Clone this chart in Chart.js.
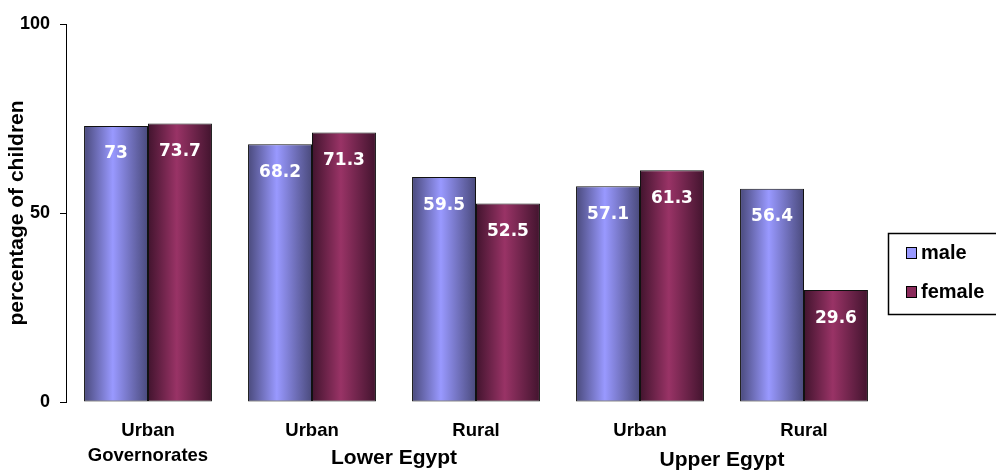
<!DOCTYPE html>
<html>
<head>
<meta charset="utf-8">
<script src="https://cdn.jsdelivr.net/npm/chart.js@4"></script>
<style>
  html, body { margin: 0; padding: 0; background: #fff; overflow: hidden; }
  #wrap { width: 996px; height: 470px; position: relative; }
</style>
</head>
<body>
<div id="wrap"><canvas id="myChart" width="996" height="470"></canvas></div>
<script>
// データ
const categories = [['Urban', 'Governorates'], 'Urban', 'Rural', 'Urban', 'Rural'];
const groupLabels = ['Lower Egypt', 'Upper Egypt'];
const groupSpans = [[1, 2], [3, 4]]; // どのカテゴリの下に置くか
const maleValues = [73, 68.2, 59.5, 57.1, 56.4];
const femaleValues = [73.7, 71.3, 52.5, 61.3, 29.6];
const yTicks = [0, 50, 100];

const FONT = '"Liberation Sans", Arial, sans-serif';
const CAT_PCT = 0.78;

// 棒の横方向グラデーション
function barGradient(edge, mid, side) {
    return function(context) {
        const chart = context.chart;
        const area = chart.chartArea;
        const xScale = chart.scales.x;
        if (!area || !xScale || context.dataIndex === undefined) return mid;
        const center = xScale.getPixelForValue(context.dataIndex);
        const bw = (area.width / categories.length) * CAT_PCT / 2;
        const x0 = side === 0 ? center - bw : center;
        const g = chart.ctx.createLinearGradient(x0, 0, x0 + bw, 0);
        g.addColorStop(0, edge);
        g.addColorStop(0.45, mid);
        g.addColorStop(1, edge);
        return g;
    };
}

// 値ラベル
const valueLabels = {
    id: 'valueLabels',
    afterDatasetsDraw(chart) {
        const ctx = chart.ctx;
        ctx.save();
        ctx.fillStyle = '#fff';
        ctx.font = 'bold 17px "DejaVu Sans", sans-serif';
        ctx.textAlign = 'center';
        ctx.textBaseline = 'middle';
        chart.data.datasets.forEach((ds, i) => {
            chart.getDatasetMeta(i).data.forEach((el, j) => {
                ctx.fillText(String(ds.data[j]), el.x, el.y + 28);
            });
        });
        ctx.restore();
    }
};

// グループラベルと凡例
const extras = {
    id: 'extras',
    afterDraw(chart) {
        const ctx = chart.ctx;
        const xScale = chart.scales.x;
        ctx.save();
        ctx.fillStyle = '#000';
        ctx.font = 'bold 21px ' + FONT;
        ctx.textAlign = 'center';
        ctx.textBaseline = 'middle';
        groupLabels.forEach((lab, i) => {
            const a = xScale.getPixelForValue(groupSpans[i][0]);
            const b = xScale.getPixelForValue(groupSpans[i][1]);
            ctx.fillText(lab, (a + b) / 2, 458 + i * 2);
        });

        // 凡例
        ctx.strokeStyle = '#000';
        ctx.lineWidth = 1.5;
        ctx.strokeRect(888.5, 233.5, 110, 81);
        const items = [['male', '#9999ff'], ['female', '#8a2a5a']];
        ctx.font = 'bold 20px ' + FONT;
        ctx.textAlign = 'left';
        items.forEach((it, i) => {
            const y = 253 + i * 39;
            ctx.fillStyle = it[1];
            ctx.fillRect(906, y - 6, 11, 12);
            ctx.strokeStyle = '#000';
            ctx.lineWidth = 1;
            ctx.strokeRect(906.5, y - 5.5, 10, 11);
            ctx.fillStyle = '#000';
            ctx.fillText(it[0], 921, y);
        });
        ctx.restore();
    }
};

const ctx = document.getElementById('myChart').getContext('2d');
const myChart = new Chart(ctx, {
    type: 'bar',
    data: {
        labels: categories,
        datasets: [{
            label: 'male',
            data: maleValues,
            backgroundColor: barGradient('#4a4a7c', '#9999ff', 0),
            borderColor: '#111',
            borderWidth: 1,
            borderSkipped: false
        }, {
            label: 'female',
            data: femaleValues,
            backgroundColor: barGradient('#42142e', '#993366', 1),
            borderColor: '#111',
            borderWidth: 1,
            borderSkipped: false
        }]
    },
    options: {
        responsive: false,
        animation: false,
        devicePixelRatio: 1,
        layout: { padding: { top: 24, right: 110, left: 0, bottom: 0 } },
        datasets: {
            bar: { categoryPercentage: CAT_PCT, barPercentage: 1 }
        },
        plugins: {
            legend: { display: false },
            tooltip: { enabled: false }
        },
        scales: {
            x: {
                grid: { display: false, drawTicks: false },
                border: { display: false },
                ticks: {
                    color: '#000',
                    font: { family: FONT, size: 18.5, weight: 'bold', lineHeight: 1.35 },
                    padding: 16,
                    maxRotation: 0,
                    autoSkip: false
                },
                afterFit(scale) { scale.height = 68; }
            },
            y: {
                min: 0,
                max: 100,
                afterBuildTicks(scale) {
                    scale.ticks = yTicks.map(v => ({ value: v }));
                },
                grid: {
                    drawOnChartArea: false,
                    drawTicks: true,
                    tickLength: 6,
                    color: '#000'
                },
                border: { display: true, color: '#000', width: 1 },
                ticks: {
                    color: '#000',
                    font: { family: FONT, size: 18, weight: 'bold' },
                    padding: 10
                },
                title: {
                    display: true,
                    text: 'percentage of children',
                    color: '#000',
                    font: { family: FONT, size: 21, weight: 'bold' },
                    padding: { top: 5, bottom: 0 }
                },
                afterFit(scale) { scale.width = 66; }
            }
        }
    },
    plugins: [valueLabels, extras]
});
</script>
</body>
</html>
